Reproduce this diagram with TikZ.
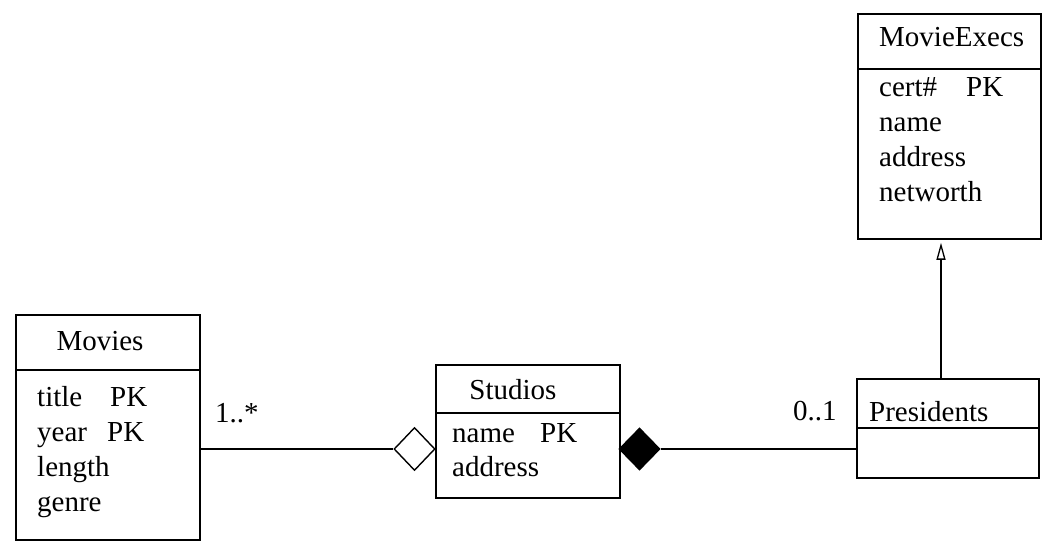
\documentclass[tikz,border=0pt]{standalone}
\usepackage{fontspec}
\setmainfont{Liberation Serif}
\usetikzlibrary{shapes.geometric,arrows.meta}
\begin{document}
\begin{tikzpicture}[x=1pt,y=-1pt,
  classbox/.style={draw,line width=1.8pt,rectangle,inner sep=0pt,anchor=north west},
  divider/.style={line width=1.6pt},
  txt/.style={inner sep=0pt,anchor=base west,font=\fontsize{29}{35}\selectfont},
  ctxt/.style={inner sep=0pt,anchor=base,font=\fontsize{29}{35}\selectfont},
  conn/.style={line width=1.8pt},
  aggr/.style={draw,shape=diamond,inner sep=0pt,line width=1.4pt,fill=white,minimum width=41pt,minimum height=43pt},
  compo/.style={draw,shape=diamond,inner sep=0pt,line width=1.2pt,fill=black,minimum width=41pt,minimum height=42pt},
  gen/.style={line width=1.3pt,-{Triangle[open,width=9pt,length=17pt,line width=1.3pt]},shorten >=3pt}]
\useasboundingbox (0,0) rectangle (1053,556);

% Movies
\node[classbox,minimum width=184pt,minimum height=225pt] (movies) at (15,314) {};
\draw[divider] (movies.west |- 0,370) -- (movies.east |- 0,370);
\node[ctxt] (mt) at (100,350) {Movies};
\node[txt] (m1) at (37,406) {\makebox[73pt][l]{title}PK};
\node[txt] (m2) at (37,441) {\makebox[70pt][l]{year}PK};
\node[txt] (m3) at (37,476) {length};
\node[txt] (m4) at (37,511) {genre};

% Studios
\node[classbox,minimum width=184pt,minimum height=133pt] (studios) at (435,364) {};
\draw[divider] (studios.west |- 0,413) -- (studios.east |- 0,413);
\node[ctxt] (st) at (513,399) {Studios};
\node[txt] (s1) at (452,442) {\makebox[88pt][l]{name}PK};
\node[txt] (s2) at (452,476) {address};

% Presidents
\node[classbox,minimum width=182pt,minimum height=99pt] (pres) at (856,378) {};
\draw[divider] (pres.west |- 0,428) -- (pres.east |- 0,428);
\node[txt] (pt) at (869,421) {Presidents};

% MovieExecs
\node[classbox,minimum width=183pt,minimum height=225pt] (execs) at (857,13) {};
\draw[divider] (execs.west |- 0,69) -- (execs.east |- 0,69);
\node[txt] (et) at (879,47) {MovieExecs};
\node[txt] (e1) at (879,97) {\makebox[87pt][l]{cert\#}PK};
\node[txt] (e2) at (879,132) {name};
\node[txt] (e3) at (879,167) {address};
\node[txt] (e4) at (879,202) {networth};

% aggregation Movies -- Studios
\node[aggr] (agg) at (414.5,449) {};
\draw[conn] (movies.east |- agg.west) -- (agg.west);
\node[txt] (mult1) at (215,422) {1..*};

% composition Studios -- Presidents
\node[compo] (comp) at (639.5,449) {};
\draw[conn] (comp.east) -- (pres.west |- comp.east);
\node[txt] (mult2) at (793,420) {0..1};

% generalization Presidents -> MovieExecs
\coordinate (gx) at (941,0);
\draw[gen] (pres.north -| gx) -- (execs.south -| gx);
\end{tikzpicture}
\end{document}
